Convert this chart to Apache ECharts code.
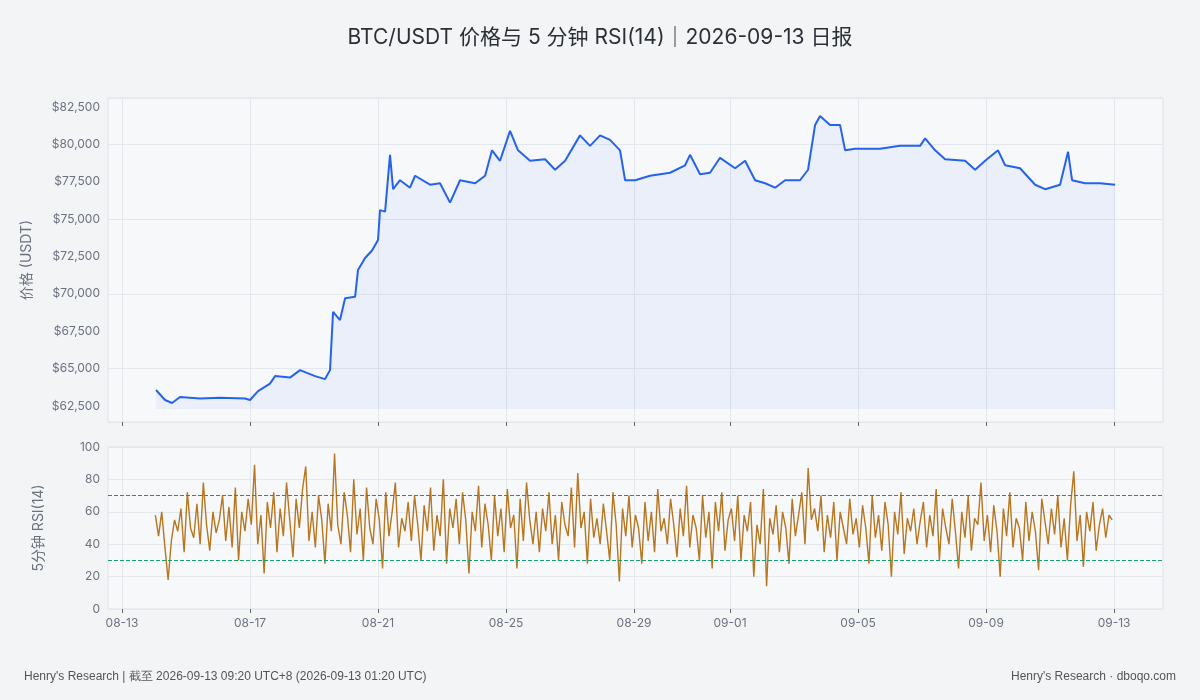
<!DOCTYPE html>
<html lang="zh">
<head>
<meta charset="UTF-8">
<title>BTC/USDT 价格与 RSI</title>
<script src="https://cdn.jsdelivr.net/npm/echarts@6/dist/echarts.min.js"></script>
<style>
  html, body { margin: 0; background: #f3f4f6; }
  #main { width: 1200px; height: 700px; }
</style>
</head>
<body>
<div id="main"></div>
<script type="text/javascript">
// hours since 08-13 00:00
var priceHours = [25.5,32.3,37.5,43.5,58.5,73.5,92.3,96,102,111,114.8,126,133.5,144.8,152.3,156,158.3,163.5,167.3,174.8,177,182.3,187.5,192,193.5,197.3,201,203.3,208.5,216,219.8,231,238.5,246,253.5,264.8,272.3,277.5,283.5,291,297,306,317.3,324.8,332.3,343.5,351,358.5,366,373.5,377.3,384.8,396,411,422.3,426,433.5,441,448.5,459.8,467.3,474.8,482.3,489.8,497.3,508.5,514.5,519.8,523.5,531,538.5,542.3,549.8,568.5,583.5,598.5,602.3,609.8,617.3,632.3,639.8,647.3,657,662.3,673.5,684.8,692.3,703.5,709.5,712.5,722.3,733.5,744.8];
var priceValues = [63570,62900,62700,63100,63000,63050,63000,62900,63500,64000,64500,64400,64900,64500,64300,64900,68800,68250,69700,69800,71600,72400,72900,73600,75600,75500,79300,77000,77600,77100,77900,77300,77400,76100,77600,77400,77900,79600,78900,80900,79600,78900,79000,78300,78900,80600,79900,80600,80300,79600,77600,77600,77900,78100,78600,79300,78000,78100,79100,78400,78900,77600,77400,77100,77600,77600,78300,81300,81900,81300,81300,79600,79700,79700,79900,79900,80400,79600,79000,78900,78300,78900,79600,78600,78400,77300,77000,77300,79500,77600,77400,77400,77300];

var rsiStart = 25, rsiStep = 2.4;
var rsiValues = [
  58,45,60,38,18,42,55,48,62,35,72,50,44,65,40,78,52,36,60,47,
  55,70,42,63,38,75,30,60,48,68,52,89,40,58,22,66,50,72,35,62,
  45,78,55,32,68,50,74,88,42,60,38,70,55,28,65,48,96,52,40,72,
  58,35,80,46,62,30,75,50,40,68,55,25,72,45,60,78,38,56,48,66,
  42,70,52,30,64,48,75,36,58,45,80,28,62,50,68,40,72,55,22,60,
  48,76,38,65,52,30,70,45,62,35,74,50,58,25,68,42,78,55,40,60,
  35,62,48,72,40,58,30,66,52,45,75,38,84,50,60,28,68,44,56,40,
  65,48,30,72,52,17,62,45,70,38,58,50,28,66,42,60,35,74,48,56,
  40,68,52,32,62,45,76,38,58,50,30,70,44,60,25,66,48,72,36,55,
  62,42,70,30,58,48,66,20,52,40,74,14,56,46,64,35,60,50,28,68,
  45,58,72,40,87,55,62,48,70,35,58,44,66,30,60,50,40,68,46,56,
  38,64,50,28,70,44,58,36,66,52,20,60,46,72,34,56,48,62,40,54,
  66,38,58,45,74,30,62,50,40,68,48,25,60,44,70,36,56,52,78,42,
  58,35,64,48,20,62,45,72,38,56,50,30,66,42,60,48,24,68,54,40,
  62,46,70,38,56,30,64,85,42,58,26,60,48,66,36,52,62,44,58,55
];

var tickHours = [0,96,192,288,384,456,552,648,744];
var tickLabels = ['08-13','08-17','08-21','08-25','08-29','09-01','09-05','09-09','09-13'];
var priceTicks = [62500,65000,67500,70000,72500,75000,77500,80000,82500];
var rsiTicks = [0,20,40,60,80,100];

var priceData = priceHours.map(function (h, i) { return [h, priceValues[i]]; });
var rsiData = rsiValues.map(function (v, i) { return [rsiStart + i * rsiStep, v]; });

var axisGrey = '#6b7280', gridLine = '#e3e7ee';
function xAxisCfg(idx, showLabel) {
  return {
    type: 'value', gridIndex: idx, min: -10.5, max: 780.7,
    axisLine: { show: false },
    axisTick: { show: true, customValues: tickHours, length: 4, lineStyle: { color: '#666' } },
    axisLabel: {
      show: showLabel, customValues: tickHours, color: axisGrey, fontSize: 12,
      formatter: function (v) { var i = tickHours.indexOf(v); return i >= 0 ? tickLabels[i] : ''; }
    },
    splitLine: { show: true, lineStyle: { color: gridLine } }
  };
}

var myChart = echarts.init(document.getElementById('main'));
var option = {
  backgroundColor: '#f3f4f6',
  animation: false,
  textStyle: { fontFamily: 'Inter, "Noto Sans CJK SC", sans-serif' },
  title: {
    text: 'BTC/USDT 价格与 5 分钟 RSI(14)｜2026-09-13 日报',
    left: 'center', top: 22,
    textStyle: { fontSize: 21, fontWeight: 'normal', color: '#2b2f36' }
  },
  graphic: [
    { type: 'text', left: 24, top: 671, style: { text: "Henry's Research | 截至 2026-09-13 09:20 UTC+8 (2026-09-13 01:20 UTC)", fill: '#555', fontSize: 12 } },
    { type: 'text', right: 24, top: 671, style: { text: "Henry's Research · dboqo.com", fill: '#555', fontSize: 12 } }
  ],
  grid: [
    { left: 108, right: 37, top: 98, height: 324, show: true, backgroundColor: '#f7f8fa', borderColor: '#dde3ea' },
    { left: 108, right: 37, top: 447, height: 162, show: true, backgroundColor: '#f7f8fa', borderColor: '#dde3ea' }
  ],
  xAxis: [xAxisCfg(0, false), xAxisCfg(1, true)],
  yAxis: [
    {
      type: 'value', gridIndex: 0, min: 61430, max: 83100,
      name: '价格 (USDT)', nameLocation: 'middle', nameGap: 74,
      nameTextStyle: { color: axisGrey, fontSize: 14 },
      axisLine: { show: false }, axisTick: { show: false },
      axisLabel: { customValues: priceTicks, color: axisGrey, fontSize: 12,
        formatter: function (v) { return '$' + v.toLocaleString('en-US'); } },
      splitLine: { show: true, lineStyle: { color: gridLine } }
    },
    {
      type: 'value', gridIndex: 1, min: 0, max: 100, interval: 20,
      name: '5分钟 RSI(14)', nameLocation: 'middle', nameGap: 62,
      nameTextStyle: { color: axisGrey, fontSize: 14 },
      axisLine: { show: false }, axisTick: { show: false },
      axisLabel: { color: axisGrey, fontSize: 12 },
      splitLine: { show: true, lineStyle: { color: gridLine } }
    }
  ],
  series: [
    {
      type: 'line', xAxisIndex: 0, yAxisIndex: 0, data: priceData,
      showSymbol: false, lineStyle: { color: '#2563eb', width: 2 },
      itemStyle: { color: '#2563eb' },
      areaStyle: { color: 'rgba(37,99,235,0.08)', origin: 62300 }
    },
    {
      type: 'line', xAxisIndex: 1, yAxisIndex: 1, data: rsiData,
      showSymbol: false, lineStyle: { color: '#b7761f', width: 1.4 },
      markLine: {
        silent: true, symbol: 'none', label: { show: false },
        data: [
          { yAxis: 70, lineStyle: { color: '#a8505e', type: 'dashed', width: 1 } },
          { yAxis: 30, lineStyle: { color: '#17a06e', type: 'dashed', width: 1 } }
        ]
      }
    }
  ]
};
myChart.setOption(option);
</script>
</body>
</html>
